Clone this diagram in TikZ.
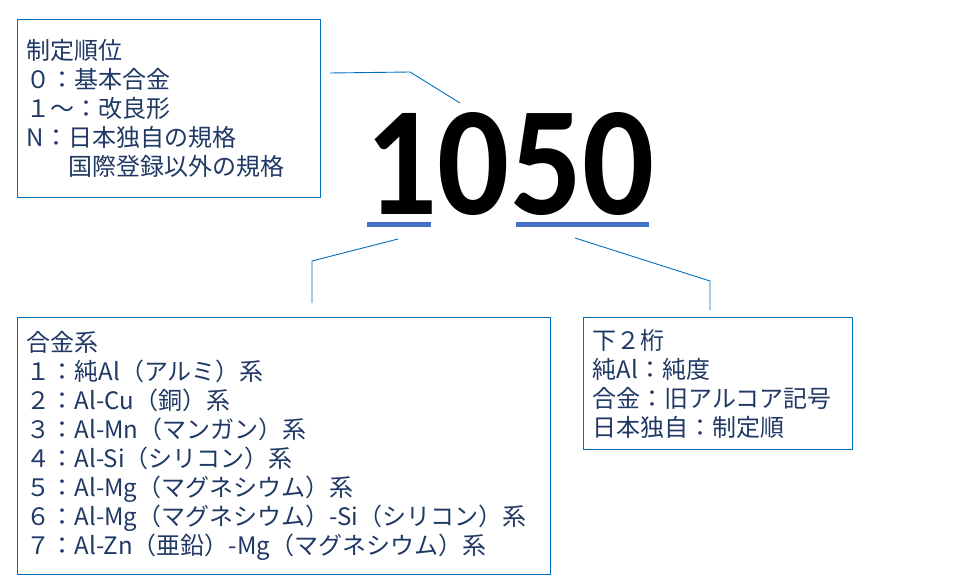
\documentclass[tikz,border=0pt]{standalone}
\usepackage{fontspec}
\setmainfont{Noto Sans CJK JP}
\newfontfamily\numfont{Carlito}
\usepackage{xcolor}
\usetikzlibrary{calc}
\definecolor{boxblue}{HTML}{0070C0}
\definecolor{textnavy}{HTML}{1F3864}
\definecolor{barblue}{HTML}{4472C4}
\tikzset{>=latex}
\tikzset{
  infobox/.style={draw=boxblue,line width=1.3pt,rectangle,anchor=north west,align=left,
    inner xsep=9pt,inner ysep=0pt,text=textnavy,font=\fontsize{24}{29}\selectfont},
  leader/.style={draw=boxblue,line width=0.9pt},
  underbar/.style={fill=barblue,draw=none,inner sep=0pt,minimum height=5pt}
}

\begin{document}
\begin{tikzpicture}[x=1pt,y=-1pt]
  \useasboundingbox (0,0) rectangle (960,585);

  % Number
  \node[inner sep=0pt] (num) at (510,164) {\resizebox{288pt}{102pt}{\numfont\bfseries 1050}};
  \node[underbar,minimum width=64pt] (bar1) at (399,225) {};
  \node[underbar,minimum width=133pt] (bar2) at (582.5,225) {};

  % Boxes
  \node[infobox,text width=285pt,minimum height=178pt] (rank) at (17,19)
    {制定順位\\０：基本合金\\１～：改良形\\N：日本独自の規格\\\phantom{N：}国際登録以外の規格};
  \node[infobox,text width=515pt,minimum height=257pt] (alloy) at (17,317)
    {合金系\\１：純Al（アルミ）系\\２：Al-Cu（銅）系\\３：Al-Mn（マンガン）系\\４：Al-Si（シリコン）系\\５：Al-Mg（マグネシウム）系\\６：Al-Mg（マグネシウム）-Si（シリコン）系\\７：Al-Zn（亜鉛）-Mg（マグネシウム）系};
  \node[infobox,text width=251pt,minimum height=132pt] (lower) at (583,317)
    {下２桁\\純Al：純度\\合金：旧アルコア記号\\日本独自：制定順};

  % Leaders
  \coordinate (lead1a) at (330,73);
  \coordinate (lead1b) at (410,72);
  \coordinate (lead1c) at (460,103);
  \coordinate (lead2a) at (398,239);
  \coordinate (lead2b) at (312,261);
  \coordinate (lead2c) at (312,303);
  \coordinate (lead3a) at (575,238);
  \coordinate (lead3b) at (710,281);
  \coordinate (lead3c) at (710,310);

  \draw[leader] (lead1a) -- (lead1b) -- (lead1c);
  \draw[leader] (lead2a) -- (lead2b) -- (lead2c);
  \draw[leader] (lead3a) -- (lead3b) -- (lead3c);
\end{tikzpicture}
\end{document}
